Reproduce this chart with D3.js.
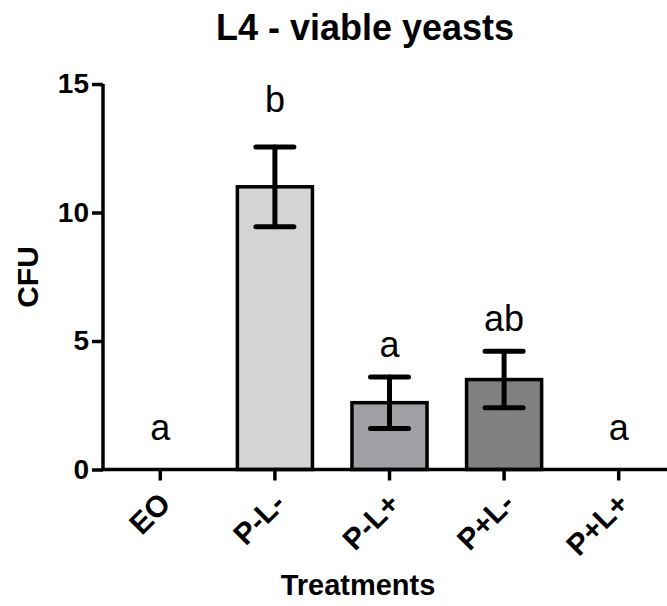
<!DOCTYPE html>
<html>
<head>
<meta charset="utf-8">
<script src="https://cdn.jsdelivr.net/npm/d3@7"></script>
<style>
  body { margin: 0; background: #fff; }
  text { font-family: "Liberation Sans", Arial, sans-serif; fill: #000; }
</style>
</head>
<body>
<div id="chart"></div>
<script>
var treatments = ["EO", "P-L-", "P-L+", "P+L-", "P+L+"];
var cfuMean = [0, 11.0, 2.6, 3.5, 0];
var cfuErr = [0, 1.55, 1.0, 1.1, 0];
var sigLetters = ["a", "b", "a", "ab", "a"];
var letterAt = [1.15, 13.92, 4.39, 5.37, 1.15];
var barColors = ["#ffffff", "#d4d4d4", "#a0a0a4", "#808080", "#ffffff"];
var yTicks = [0, 5, 10, 15];

var W = 667, H = 606;
var x0 = 103, x1 = 676, yTop = 84, yBot = 469.5;

var svg = d3.select("#chart").append("svg")
    .attr("width", W)
    .attr("height", H);

var x = d3.scaleBand()
    .domain(treatments)
    .range([x0, x1])
    .paddingInner(0.345)
    .paddingOuter(0.1725);

var y = d3.scaleLinear().domain([0, 15]).range([yBot, yTop]);

// bars
svg.selectAll(".bar")
    .data(treatments)
    .enter().append("rect")
    .attr("class", "bar")
    .attr("x", function (d) { return x(d); })
    .attr("y", function (d, i) { return y(cfuMean[i]); })
    .attr("width", x.bandwidth())
    .attr("height", function (d, i) { return y(0) - y(cfuMean[i]); })
    .style("fill", function (d, i) { return barColors[i]; })
    .style("stroke", function (d, i) { return cfuMean[i] > 0 ? "#000" : "none"; })
    .style("stroke-width", 3.5);

// error bars
var err = svg.selectAll(".err")
    .data(treatments.filter(function (d, i) { return cfuErr[i] > 0; }))
    .enter().append("g")
    .attr("class", "err")
    .style("stroke", "#000")
    .style("stroke-width", 5)
    .style("stroke-linecap", "round");

err.append("line")
    .attr("x1", function (d) { return x(d) + x.bandwidth() / 2; })
    .attr("x2", function (d) { return x(d) + x.bandwidth() / 2; })
    .attr("y1", function (d) { var i = treatments.indexOf(d); return y(cfuMean[i] + cfuErr[i]); })
    .attr("y2", function (d) { var i = treatments.indexOf(d); return y(cfuMean[i] - cfuErr[i]); });

[1, -1].forEach(function (s) {
    err.append("line")
        .attr("x1", function (d) { return x(d) + x.bandwidth() / 2 - 19; })
        .attr("x2", function (d) { return x(d) + x.bandwidth() / 2 + 19; })
        .attr("y1", function (d) { var i = treatments.indexOf(d); return y(cfuMean[i] + s * cfuErr[i]); })
        .attr("y2", function (d) { var i = treatments.indexOf(d); return y(cfuMean[i] + s * cfuErr[i]); });
});

// significance letters
svg.selectAll(".sig")
    .data(treatments)
    .enter().append("text")
    .attr("class", "sig")
    .attr("x", function (d) { return x(d) + x.bandwidth() / 2; })
    .attr("y", function (d, i) { return y(letterAt[i]); })
    .attr("text-anchor", "middle")
    .style("font-size", "36px")
    .text(function (d, i) { return sigLetters[i]; });

// y axis
var yAxis = svg.append("g")
    .attr("transform", "translate(" + x0 + ",0)")
    .call(d3.axisLeft(y).tickValues(yTicks).tickSize(11).tickSizeOuter(0).tickPadding(3));

yAxis.select(".domain").attr("d", "M0," + yTop + "V" + yBot)
    .style("stroke-width", 3.5);
yAxis.selectAll(".tick line").style("stroke-width", 3.5);
yAxis.selectAll(".tick text")
    .style("font-size", "28px")
    .style("font-weight", "bold")
    .style("font-family", "'Liberation Sans', Arial, sans-serif");

// x axis
var xAxis = svg.append("g")
    .attr("transform", "translate(0," + yBot + ")")
    .call(d3.axisBottom(x).tickSize(11).tickSizeOuter(0));

xAxis.select(".domain").attr("d", "M" + (x0 - 1.75) + ",0H" + W)
    .style("stroke-width", 3.5);
xAxis.selectAll(".tick line").style("stroke-width", 3.5);
xAxis.selectAll(".tick text")
    .attr("text-anchor", "end")
    .attr("dy", 0)
    .attr("y", 0)
    .attr("transform", "translate(12,36) rotate(-45)")
    .style("font-size", "30px")
    .style("font-weight", "bold")
    .style("font-family", "'Liberation Sans', Arial, sans-serif");

// titles
svg.append("text")
    .attr("x", 365)
    .attr("y", 40)
    .attr("text-anchor", "middle")
    .style("font-size", "36px")
    .style("font-weight", "bold")
    .text("L4 - viable yeasts");

svg.append("text")
    .attr("x", 358)
    .attr("y", 595)
    .attr("text-anchor", "middle")
    .style("font-size", "29px")
    .style("font-weight", "bold")
    .text("Treatments");

svg.append("text")
    .attr("transform", "translate(38,277) rotate(-90)")
    .attr("text-anchor", "middle")
    .style("font-size", "30px")
    .style("font-weight", "bold")
    .text("CFU");
</script>
</body>
</html>
